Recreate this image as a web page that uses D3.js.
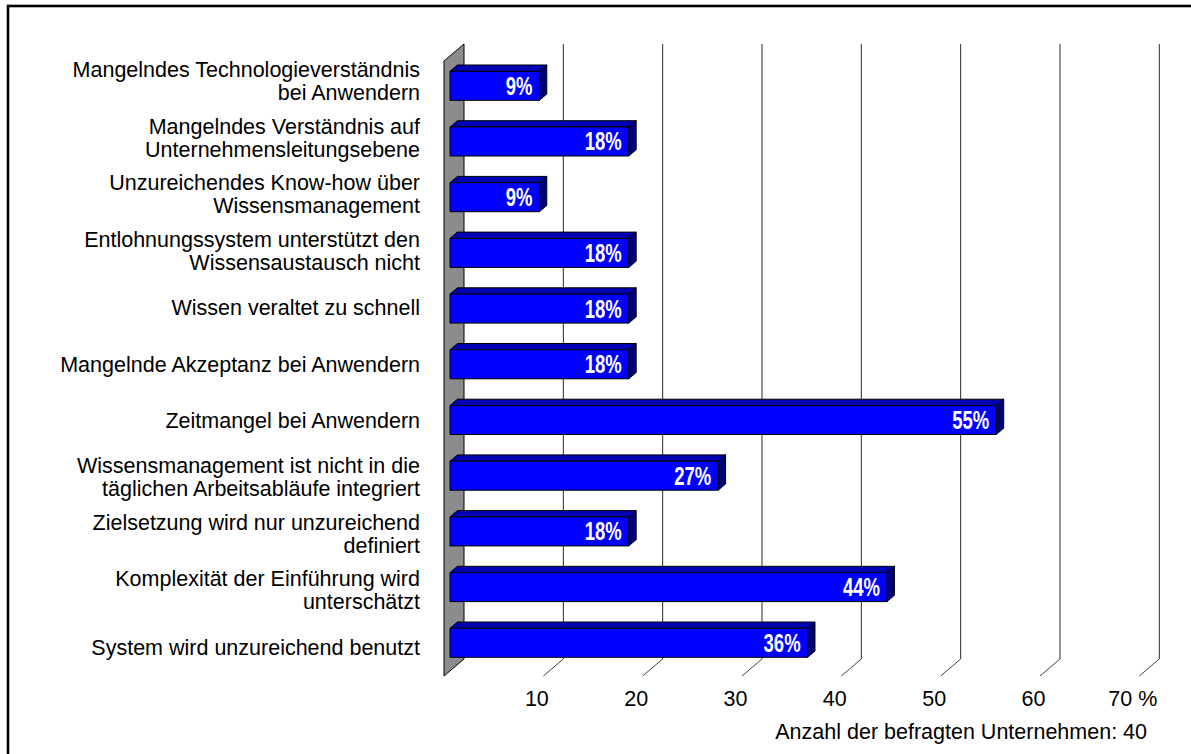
<!DOCTYPE html>
<html>
<head>
<meta charset="utf-8">
<script src="https://cdn.jsdelivr.net/npm/d3@7"></script>
<style>
  html, body { margin: 0; padding: 0; background: #fff; }
  svg { display: block; }
  text { font-family: "Liberation Sans", Arial, Helvetica, sans-serif; }
</style>
</head>
<body>
<svg id="chart" width="1191" height="754"></svg>
<script>
// Obstacles to knowledge management (share of companies, %)
const categories = [
  "Mangelndes Technologieverständnis\nbei Anwendern",
  "Mangelndes Verständnis auf\nUnternehmensleitungsebene",
  "Unzureichendes Know-how über\nWissensmanagement",
  "Entlohnungssystem unterstützt den\nWissensaustausch nicht",
  "Wissen veraltet zu schnell",
  "Mangelnde Akzeptanz bei Anwendern",
  "Zeitmangel bei Anwendern",
  "Wissensmanagement ist nicht in die\ntäglichen Arbeitsabläufe integriert",
  "Zielsetzung wird nur unzureichend\ndefiniert",
  "Komplexität der Einführung wird\nunterschätzt",
  "System wird unzureichend benutzt"
];
const values = [9, 18, 9, 18, 18, 18, 55, 27, 18, 44, 36];
const tickValues = [10, 20, 30, 40, 50, 60, 70];
const footnote = "Anzahl der befragten Unternehmen: 40";

const svg = d3.select("#chart");
const FS = 21.5;

// Front plane scales; depth is added with an oblique offset
const x = d3.scaleLinear().domain([0, 70]).range([444, 444 + 695.3]);
const y = d3.scaleBand().domain(d3.range(categories.length))
  .range([62.4, 676.4]).paddingInner(0.479).paddingOuter(0.251);
// category label centres
const yLabel = d3.scalePoint().domain(d3.range(categories.length)).range([81, 647]);
const DX = 20, DY = -17;            // full depth offset of the plot box
const F1 = 0.3, F2 = 0.67;          // bar depth (front / back)
const wallTop = 61, floorY = 676;

const P = (v, yy, f) => [x(v) + f * DX, yy + f * DY];
const poly = pts => pts.map(p => p.join(",")).join(" ");

// Outer frame
svg.append("rect")
  .attr("x", 8).attr("y", 6).attr("width", 1200).attr("height", 800)
  .attr("fill", "none").attr("stroke", "#000").attr("stroke-width", 2.6);

// Back-wall gridlines
svg.append("g").selectAll("line").data(tickValues).join("line")
  .attr("x1", d => P(d, wallTop, 1)[0]).attr("x2", d => P(d, wallTop, 1)[0])
  .attr("y1", P(0, wallTop, 1)[1]).attr("y2", P(0, floorY, 1)[1])
  .attr("stroke", "#2a2a2a").attr("stroke-width", 1);

// Floor tick diagonals
svg.append("g").selectAll("line").data(tickValues).join("line")
  .attr("x1", d => P(d, floorY, 0)[0]).attr("y1", d => P(d, floorY, 0)[1])
  .attr("x2", d => P(d, floorY, 1)[0]).attr("y2", d => P(d, floorY, 1)[1])
  .attr("stroke", "#444").attr("stroke-width", 1);

// Left side wall
svg.append("polygon")
  .attr("points", poly([P(0, wallTop, 0), P(0, wallTop, 1), P(0, floorY, 1), P(0, floorY, 0)]))
  .attr("fill", "#8c8c8c").attr("stroke", "#000").attr("stroke-width", 1);

// 3D bars
const bars = svg.append("g").selectAll("g").data(values).join("g");
bars.each(function (v, i) {
  const g = d3.select(this);
  const y0 = y(i), y1 = y(i) + y.bandwidth();
  // top face
  g.append("polygon")
    .attr("points", poly([P(0, y0, F1), P(v, y0, F1), P(v, y0, F2), P(0, y0, F2)]))
    .attr("fill", "#0000b4").attr("stroke", "#000").attr("stroke-width", 1);
  // end face
  g.append("polygon")
    .attr("points", poly([P(v, y0, F1), P(v, y0, F2), P(v, y1, F2), P(v, y1, F1)]))
    .attr("fill", "#000078").attr("stroke", "#000").attr("stroke-width", 1);
  // front face
  g.append("polygon")
    .attr("points", poly([P(0, y0, F1), P(v, y0, F1), P(v, y1, F1), P(0, y1, F1)]))
    .attr("fill", "#0000ff").attr("stroke", "#000").attr("stroke-width", 1);
  // value label
  const [ex, ey] = P(v, (y0 + y1) / 2, F1);
  g.append("text")
    .attr("transform", `translate(${ex - 7},${ey + 9}) scale(0.74,1)`)
    .attr("text-anchor", "end")
    .attr("font-size", 25).attr("font-weight", "bold")
    .attr("fill", "#fff")
    .text(v + "%");
});

// Category labels
const labels = svg.append("g").selectAll("text").data(categories).join("text")
  .attr("text-anchor", "end").attr("font-size", FS).attr("fill", "#000");
labels.each(function (d, i) {
  const lines = d.split("\n");
  const cy = yLabel(i);
  const blockH = 15 + 23 * (lines.length - 1);
  const first = cy - blockH / 2 + 15;
  d3.select(this).selectAll("tspan").data(lines).join("tspan")
    .attr("x", 420).attr("y", (l, k) => first + k * 23).text(l => l);
});

// Value axis labels
const axis = d3.axisBottom(x).tickValues(tickValues)
  .tickSize(0).tickPadding(0)
  .tickFormat(d => d === 70 ? "70 %" : d);
const ax = svg.append("g").attr("transform", `translate(-7,${floorY + 15})`).call(axis);
ax.select(".domain").remove();
ax.selectAll("text").attr("font-size", FS).attr("fill", "#000")
  .attr("font-family", "'Liberation Sans', Arial, sans-serif");

// Sample size note
svg.append("text")
  .attr("x", 1147).attr("y", 739).attr("text-anchor", "end")
  .attr("font-size", FS).attr("fill", "#000")
  .text(footnote);
</script>
</body>
</html>
